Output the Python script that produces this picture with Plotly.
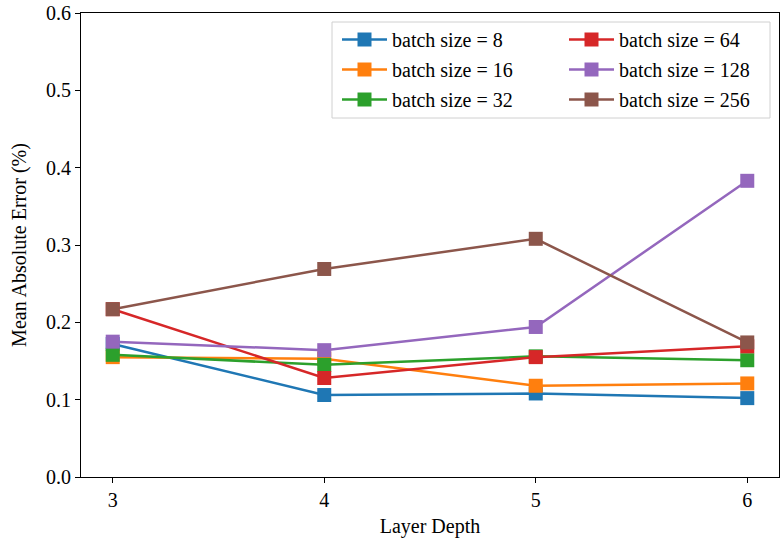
import plotly.graph_objects as go

layer_depth = [3, 4, 5, 6]
series_names = ["batch size = 8", "batch size = 16", "batch size = 32",
                "batch size = 64", "batch size = 128", "batch size = 256"]
mae_bs8 = [0.172, 0.106, 0.108, 0.102]
mae_bs16 = [0.155, 0.153, 0.118, 0.121]
mae_bs32 = [0.158, 0.145, 0.156, 0.151]
mae_bs64 = [0.217, 0.128, 0.155, 0.169]
mae_bs128 = [0.175, 0.164, 0.194, 0.383]
mae_bs256 = [0.217, 0.269, 0.308, 0.174]
y_ticks = [0.0, 0.1, 0.2, 0.3, 0.4, 0.5, 0.6]

values = [mae_bs8, mae_bs16, mae_bs32, mae_bs64, mae_bs128, mae_bs256]
colors = ["#1f77b4", "#ff7f0e", "#2ca02c", "#d62728", "#9467bd", "#8c564b"]
FONT = "Liberation Serif, Times New Roman, serif"
FS = 20

fig = go.Figure()
for i, (name, vals, col) in enumerate(zip(series_names, values, colors)):
    fig.add_trace(go.Scatter(
        x=layer_depth, y=vals, name=name, mode="lines+markers",
        line=dict(color=col, width=2.5),
        marker=dict(symbol="square", size=14, color=col, line=dict(width=0)),
        legend="legend" if i < 3 else "legend2",
        legendgroup=f"g{i}",
    ))

L, R, T, B = 81, 1, 13, 67
W, H = 780, 544
pw, ph = W - L - R, H - T - B

def px_x(x):
    return (x - L) / pw

def px_y(y):
    return (H - B - y) / ph

legend_common = dict(
    bgcolor="rgba(0,0,0,0)", borderwidth=0,
    font=dict(family=FONT, size=FS, color="black"),
    xanchor="left", yanchor="top", itemwidth=45,
    tracegroupgap=1, traceorder="grouped",
)

fig.add_shape(type="rect", xref="paper", yref="paper",
              x0=px_x(332), x1=px_x(770), y0=px_y(118), y1=px_y(22),
              line=dict(color="#d0d0d0", width=1), fillcolor="white", layer="above")

fig.update_layout(
    width=W, height=H,
    margin=dict(l=L, r=R, t=T, b=B),
    paper_bgcolor="white", plot_bgcolor="white",
    font=dict(family=FONT, size=FS, color="black"),
    showlegend=True,
    legend=dict(x=px_x(337), y=px_y(20), **legend_common),
    legend2=dict(x=px_x(564), y=px_y(20), **legend_common),
    xaxis=dict(
        range=[2.85, 6.15], tickvals=layer_depth, ticktext=[str(v) for v in layer_depth],
        showgrid=False, zeroline=False, showline=True, mirror=True,
        linecolor="black", linewidth=1, ticks="outside", ticklen=5, tickwidth=1,
        tickcolor="black", tickfont=dict(family=FONT, size=FS),
        title=dict(text="Layer Depth", font=dict(family=FONT, size=FS), standoff=8),
    ),
    yaxis=dict(
        range=[0, 0.6], tickvals=y_ticks, ticktext=[f"{v:.1f}" for v in y_ticks],
        showgrid=False, zeroline=False, showline=True, mirror=True,
        linecolor="black", linewidth=1, ticks="outside", ticklen=5, tickwidth=1,
        tickcolor="black", tickfont=dict(family=FONT, size=FS),
        title=dict(text="Mean Absolute Error (%)", font=dict(family=FONT, size=FS), standoff=14),
    ),
)

fig.write_html("out.html")
